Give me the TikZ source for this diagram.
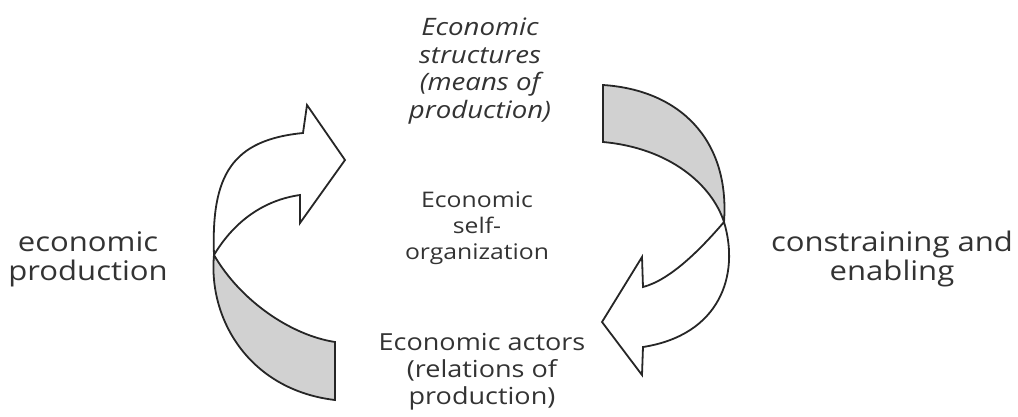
\documentclass[tikz,border=0pt]{standalone}
\usepackage{fontspec}
\setmainfont[FakeStretch=1.15]{Open Sans}
\begin{document}
\begin{tikzpicture}[x=1pt,y=-1pt,
  ribbon/.style={draw=black!85,line width=1.8pt,line join=miter},
  shade/.style={ribbon,fill=black!18},
  white/.style={ribbon,fill=white},
  sidetxt/.style={align=center,font=\fontsize{27}{29}\selectfont,text=black!80,inner sep=0pt},
  bigtxt/.style={align=center,font=\fontsize{23.5}{27}\selectfont,text=black!80,inner sep=0pt},
  midtxt/.style={align=center,font=\fontsize{21.5}{26}\selectfont,text=black!80,inner sep=0pt},
  toptxt/.style={align=center,font=\fontsize{24}{27.5}\selectfont\itshape,text=black!80,inner sep=0pt}]
\useasboundingbox (0,0) rectangle (1018,416);
% left ribbon arrow
\coordinate (TL) at (214,255);
\draw[shade] (TL) .. controls (208,320) and (250,390) .. (335,400) -- (335,342)
  .. controls (290,335) and (240,300) .. (TL) -- cycle;
\draw[white] (TL) .. controls (211,175) and (232,140) .. (303,133) -- (307,105) -- (345,160)
  -- (300,223) -- (300,195) .. controls (265,200) and (235,220) .. (TL) -- cycle;
% right ribbon arrow
\coordinate (TR) at (724,222);
\draw[shade] (603,85) .. controls (680,90) and (730,140) .. (TR)
  .. controls (712,185) and (670,148) .. (603,142) -- cycle;
\draw[white] (TR) .. controls (740,275) and (720,335) .. (643,347) -- (642,375) -- (602,322)
  -- (642,257) -- (643,287) .. controls (670,280) and (700,250) .. (TR) -- cycle;
% texts
\node[toptxt] (struct) at (480,71) {Economic\\structures\\(means of\\production)};
\node[midtxt] (self) at (477,228) {Economic\\self-\\organization};
\node[bigtxt] (actors) at (482,372) {Economic actors\\(relations of\\production)};
\node[sidetxt] (prod) at (88,259) {economic\\production};
\node[sidetxt] (constr) at (892,259) {constraining and\\enabling};
\end{tikzpicture}
\end{document}
